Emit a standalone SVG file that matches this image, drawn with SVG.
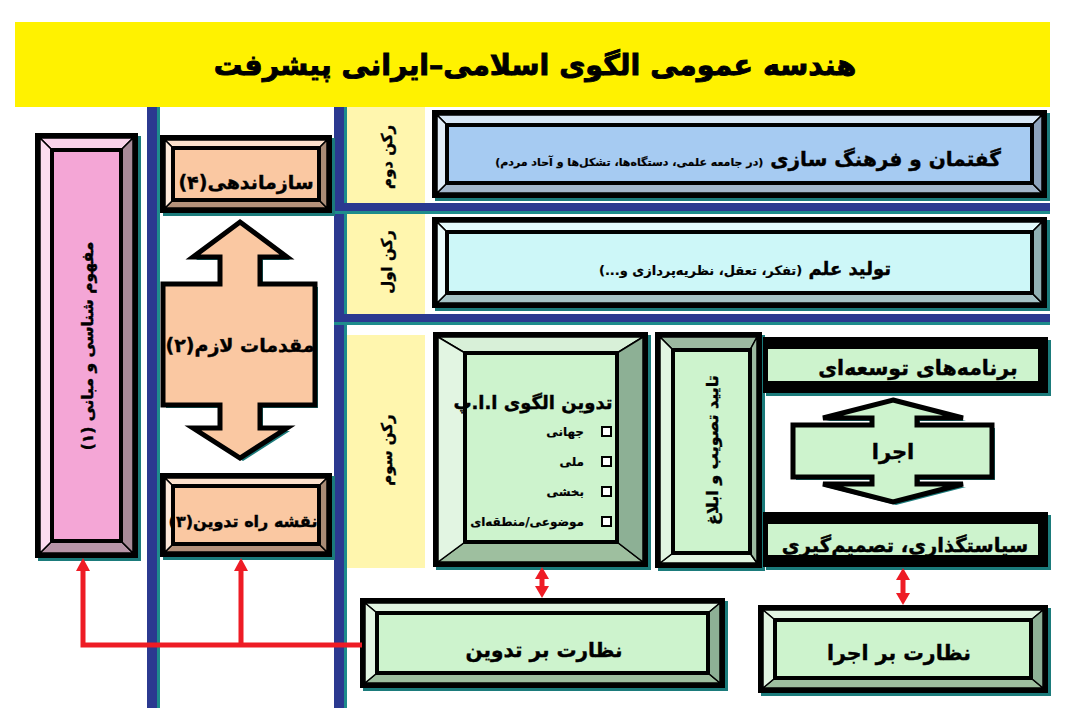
<svg xmlns="http://www.w3.org/2000/svg" width="1080" height="720" viewBox="0 0 1080 720">
<defs>
<style>
.t{font-family:'DejaVu Sans','Noto Sans',sans-serif;font-weight:bold;fill:#000;stroke:#000;stroke-width:0.4;direction:rtl;text-anchor:middle}
.fr{fill:#000}
.sh{fill:#1B7B7B}
.bl{fill:#2B3990}
.tl{fill:#1E8C8C}
.ye{fill:#FFF6AE}
.bv{stroke:#000;stroke-width:1.5;stroke-linejoin:round}
.face{stroke:#000;stroke-width:4}
.red{stroke:#EE1C25;stroke-width:5;fill:none}
.rh{fill:#EE1C25}
.arw{stroke:#000;stroke-width:5;stroke-linejoin:miter}
.chk{fill:#fff;stroke:#000;stroke-width:2}
</style>
</defs>
<rect width="1080" height="720" fill="#fff"/>

<g id="title">
<rect x="15" y="22" width="1035" height="85" fill="#FFF200"/>
<text class="t" x="535" y="75" font-size="28.5" style="stroke-width:0.9">هندسه عمومی الگوی اسلامی–ایرانی پیشرفت</text>
</g>

<g id="frame-lines">
<rect class="tl" x="157" y="107" width="3" height="601"/>
<rect class="bl" x="147" y="107" width="10" height="601"/>
<rect class="tl" x="344" y="107" width="3" height="601"/>
<rect class="bl" x="334" y="107" width="10" height="601"/>
<rect class="ye" x="347" y="107" width="78" height="96"/>
<rect class="ye" x="347" y="214" width="78" height="100"/>
<rect class="ye" x="347" y="335" width="78" height="233"/>
<rect class="tl" x="334" y="211" width="716" height="3"/>
<rect class="bl" x="334" y="203" width="716" height="8"/>
<rect class="tl" x="334" y="322" width="716" height="3"/>
<rect class="bl" x="334" y="314" width="716" height="8"/>
</g>

<g id="label-rokn2"><text class="t" font-size="15" transform="rotate(-90 386 157)" x="386" y="163">رکن دوم</text></g>
<g id="label-rokn1"><text class="t" font-size="15" transform="rotate(-90 386 262)" x="386" y="268">رکن اول</text></g>
<g id="label-rokn3"><text class="t" font-size="15" transform="rotate(-90 386 450)" x="386" y="456">رکن سوم</text></g>

<g id="box-goftman">
<rect class="sh" x="435" y="113" width="615" height="88"/>
<rect class="fr" x="432" y="110" width="615" height="88"/>
<polygon class="bv" fill="#D6E6F6" points="437,115 1042,115 1032,125 447,125"/>
<polygon class="bv" fill="#A3B6CB" points="437,193 1042,193 1032,183 447,183"/>
<polygon class="bv" fill="#E2EEF9" points="437,115 447,125 447,183 437,193"/>
<polygon class="bv" fill="#8DA3BD" points="1042,115 1032,125 1032,183 1042,193"/>
<rect class="face" x="447" y="125" width="585" height="58" fill="#A6CBF2"/>
<text class="t" x="748" y="166"><tspan font-size="20">گفتمان و فرهنگ سازی </tspan><tspan font-size="11" style="stroke-width:0.2">(در جامعه علمی، دستگاه‌ها، تشکل‌ها و آحاد مردم)</tspan></text>
</g>

<g id="box-tolid">
<rect class="sh" x="435" y="220" width="615" height="91"/>
<rect class="fr" x="432" y="217" width="615" height="91"/>
<polygon class="bv" fill="#E3FAFB" points="437,222 1042,222 1032,232 447,232"/>
<polygon class="bv" fill="#A5C3C6" points="437,303 1042,303 1032,293 447,293"/>
<polygon class="bv" fill="#EAFBFC" points="437,222 447,232 447,293 437,303"/>
<polygon class="bv" fill="#90B0B3" points="1042,222 1032,232 1032,293 1042,303"/>
<rect class="face" x="447" y="232" width="585" height="61" fill="#CDF7F8"/>
<text class="t" x="745" y="275"><tspan font-size="18">تولید علم </tspan><tspan font-size="13" style="stroke-width:0.2">(تفکر، تعقل، نظریه‌پردازی و...)</tspan></text>
</g>

<g id="box-mafhoum">
<rect class="sh" x="38" y="136" width="103" height="425"/>
<rect class="fr" x="35" y="133" width="103" height="425"/>
<polygon class="bv" fill="#F9D3EA" points="40,138 133,138 121,150 52,150"/>
<polygon class="bv" fill="#B895A8" points="40,553 133,553 121,541 52,541"/>
<polygon class="bv" fill="#FBDDEF" points="40,138 52,150 52,541 40,553"/>
<polygon class="bv" fill="#A88A98" points="133,138 121,150 121,541 133,553"/>
<rect class="face" x="52" y="150" width="69" height="391" fill="#F4A6D6"/>
<text class="t" font-size="15.5" transform="rotate(-90 87 346)" x="87" y="352">مفهوم شناسی و مبانی (۱)</text>
</g>

<g id="box-sazmandehi">
<rect class="sh" x="163" y="138" width="172" height="78"/>
<rect class="fr" x="160" y="135" width="172" height="78"/>
<polygon class="bv" fill="#FCE0CC" points="165,140 327,140 319,148 173,148"/>
<polygon class="bv" fill="#B4917A" points="165,208 327,208 319,200 173,200"/>
<polygon class="bv" fill="#FDE8D8" points="165,140 173,148 173,200 165,208"/>
<polygon class="bv" fill="#A98B75" points="327,140 319,148 319,200 327,208"/>
<rect class="face" x="173" y="148" width="146" height="52" fill="#FAC8A2"/>
<text class="t" x="246" y="189" font-size="19">سازماندهی(۴)</text>
</g>

<g id="arrow-moghadamat">
<polygon class="sh" transform="translate(3,3)" points="240,222 287,257 260,257 260,284 315,284 315,405 260,405 260,428 287,428 240,458 193,428 220,428 220,405 163,405 163,284 220,284 220,257 193,257"/>
<polygon class="arw" fill="#FAC8A2" points="240,222 287,257 260,257 260,284 315,284 315,405 260,405 260,428 287,428 240,458 193,428 220,428 220,405 163,405 163,284 220,284 220,257 193,257"/>
<text class="t" x="240" y="352" font-size="19">مقدمات لازم(۲)</text>
</g>

<g id="box-naghshe">
<rect class="sh" x="163" y="476" width="172" height="84"/>
<rect class="fr" x="160" y="473" width="172" height="84"/>
<polygon class="bv" fill="#FCE0CC" points="165,478 327,478 319,486 173,486"/>
<polygon class="bv" fill="#B4917A" points="165,552 327,552 319,544 173,544"/>
<polygon class="bv" fill="#FDE8D8" points="165,478 173,486 173,544 165,552"/>
<polygon class="bv" fill="#A98B75" points="327,478 319,486 319,544 327,552"/>
<rect class="face" x="173" y="486" width="146" height="58" fill="#FAC8A2"/>
<text class="t" x="243" y="527" font-size="16">نقشه راه تدوین(۳)</text>
</g>

<g id="box-tadvin-olgoo">
<rect class="sh" x="436" y="335" width="215" height="235"/>
<rect class="fr" x="433" y="332" width="215" height="235"/>
<polygon class="bv" fill="#D8F0D8" points="438,337 643,337 617,353 465,353"/>
<polygon class="bv" fill="#9EBF9F" points="438,562 643,562 617,542 465,542"/>
<polygon class="bv" fill="#E2F5E2" points="438,337 465,353 465,542 438,562"/>
<polygon class="bv" fill="#8DB095" points="643,337 617,353 617,542 643,562"/>
<rect class="face" x="465" y="353" width="152" height="189" fill="#CDF3CD"/>
<text class="t" x="533" y="409" font-size="18">تدوین الگوی ا.ا.پ</text>
<g font-size="12">
<text class="t" x="584" y="436" style="text-anchor:start;stroke-width:0.2">جهانی</text>
<text class="t" x="584" y="466" style="text-anchor:start;stroke-width:0.2">ملی</text>
<text class="t" x="584" y="496" style="text-anchor:start;stroke-width:0.2">بخشی</text>
<text class="t" x="584" y="526" style="text-anchor:start;stroke-width:0.2">موضوعی/منطقه‌ای</text>
</g>
<rect class="chk" x="602" y="427" width="9" height="9"/>
<rect class="chk" x="602" y="457" width="9" height="9"/>
<rect class="chk" x="602" y="487" width="9" height="9"/>
<rect class="chk" x="602" y="517" width="9" height="9"/>
</g>

<g id="box-taeed">
<rect class="sh" x="658" y="335" width="107" height="236"/>
<rect class="fr" x="655" y="332" width="107" height="236"/>
<polygon class="bv" fill="#9CB9A0" points="660,337 757,337 750,350 673,350"/>
<polygon class="bv" fill="#E2F5E2" points="660,563 757,563 750,553 673,553"/>
<polygon class="bv" fill="#E2F5E2" points="660,337 673,350 673,553 660,563"/>
<polygon class="bv" fill="#9CB9A0" points="757,337 750,350 750,553 757,563"/>
<rect class="face" x="673" y="350" width="77" height="203" fill="#CDF3CD"/>
<text class="t" font-size="16" transform="rotate(-90 712 450)" x="712" y="456">تایید تصویب و ابلاغ</text>
</g>

<g id="box-barname">
<rect class="sh" x="766" y="340" width="285" height="56"/>
<rect class="fr" x="763" y="337" width="285" height="56"/>
<rect x="768" y="349" width="270" height="32" fill="#CDF3CD"/>
<text class="t" x="918" y="375" font-size="20.5">برنامه‌های توسعه‌ای</text>
</g>

<g id="arrow-ejra">
<polygon class="sh" transform="translate(3,3)" points="893,400 963,418 917,418 917,425 992,425 992,477 917,477 917,484 963,484 893,502 823,484 872,484 872,477 793,477 793,425 872,425 872,418 823,418"/>
<polygon class="arw" fill="#CDF3CD" points="893,400 963,418 917,418 917,425 992,425 992,477 917,477 917,484 963,484 893,502 823,484 872,484 872,477 793,477 793,425 872,425 872,418 823,418"/>
<text class="t" x="893" y="459" font-size="21">اجرا</text>
</g>

<g id="box-siasat">
<rect class="sh" x="766" y="515" width="285" height="55"/>
<rect class="fr" x="763" y="512" width="285" height="55"/>
<rect x="768" y="524" width="270" height="31" fill="#CDF3CD"/>
<text class="t" x="905" y="552" font-size="19.5">سیاستگذاری، تصمیم‌گیری</text>
</g>

<g id="box-nezarat-tadvin">
<rect class="sh" x="363" y="601" width="365" height="90"/>
<rect class="fr" x="360" y="598" width="365" height="90"/>
<polygon class="bv" fill="#E2F5E2" points="365,603 720,603 708,613 377,613"/>
<polygon class="bv" fill="#9EBF9F" points="365,683 720,683 708,673 377,673"/>
<polygon class="bv" fill="#E2F5E2" points="365,603 377,613 377,673 365,683"/>
<polygon class="bv" fill="#8DB095" points="720,603 708,613 708,673 720,683"/>
<rect class="face" x="377" y="613" width="331" height="60" fill="#CDF3CD"/>
<text class="t" x="544" y="657" font-size="20">نظارت بر تدوین</text>
</g>

<g id="box-nezarat-ejra">
<rect class="sh" x="761" y="608" width="290" height="88"/>
<rect class="fr" x="758" y="605" width="290" height="88"/>
<polygon class="bv" fill="#E2F5E2" points="763,610 1043,610 1031,620 775,620"/>
<polygon class="bv" fill="#9EBF9F" points="763,688 1043,688 1031,678 775,678"/>
<polygon class="bv" fill="#E2F5E2" points="763,610 775,620 775,678 763,688"/>
<polygon class="bv" fill="#8DB095" points="1043,610 1031,620 1031,678 1043,688"/>
<rect class="face" x="775" y="620" width="256" height="58" fill="#CDF3CD"/>
<text class="t" x="899" y="660" font-size="20.5">نظارت بر اجرا</text>
</g>

<g id="connectors">
<path class="red" d="M362,645 H83 V568 M241,645 V568"/>
<polygon class="rh" points="83,558 76,571 90,571"/>
<polygon class="rh" points="241,558 234,571 248,571"/>
<path class="red" d="M542,577 V588"/>
<polygon class="rh" points="542,567 535,579 549,579"/>
<polygon class="rh" points="542,598 535,586 549,586"/>
<path class="red" d="M903,578 V594"/>
<polygon class="rh" points="903,568 896,580 910,580"/>
<polygon class="rh" points="903,605 896,593 910,593"/>
</g>
</svg>
